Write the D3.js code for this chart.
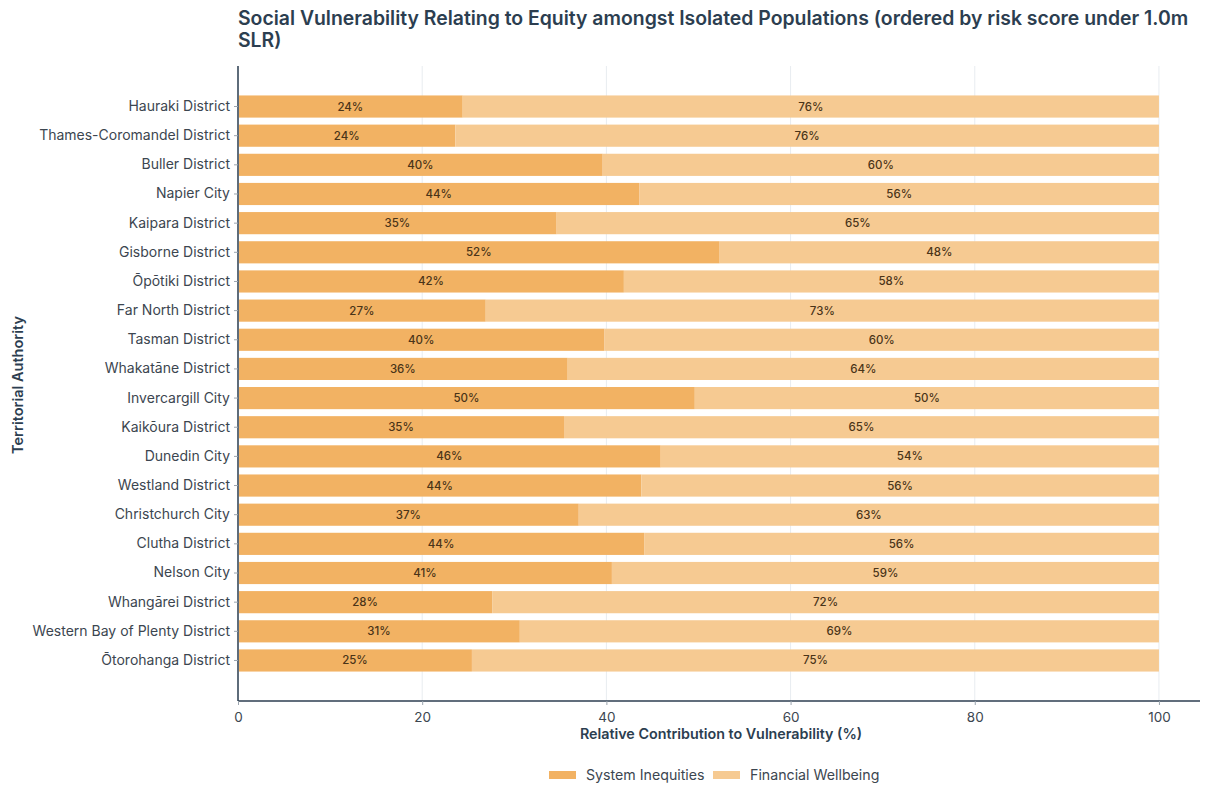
<!DOCTYPE html>
<html>
<head>
<meta charset="utf-8">
<script src="https://cdn.jsdelivr.net/npm/d3@7"></script>
<style>
  html, body { margin: 0; padding: 0; background: #ffffff; }
  svg { display: block; font-family: Inter, "Noto Sans", sans-serif; }
</style>
</head>
<body>
<svg id="chart" width="1205" height="787"></svg>
<script>
// Territorial authorities, ordered by risk score under 1.0m SLR
const authorities = [
  "Hauraki District", "Thames-Coromandel District", "Buller District", "Napier City",
  "Kaipara District", "Gisborne District", "Ōpōtiki District", "Far North District",
  "Tasman District", "Whakatāne District", "Invercargill City", "Kaikōura District",
  "Dunedin City", "Westland District", "Christchurch City", "Clutha District",
  "Nelson City", "Whangārei District", "Western Bay of Plenty District", "Ōtorohanga District"
];
// Share of vulnerability (%) from each component
const systemInequities = [24.4, 23.6, 39.6, 43.6, 34.6, 52.3, 41.9, 26.9, 39.8, 35.8,
                          49.6, 35.4, 45.9, 43.8, 37.0, 44.1, 40.6, 27.6, 30.6, 25.4];
const financialWellbeing = [75.6, 76.4, 60.4, 56.4, 65.4, 47.7, 58.1, 73.1, 60.2, 64.2,
                            50.4, 64.6, 54.1, 56.2, 63.0, 55.9, 59.4, 72.4, 69.4, 74.6];
const seriesNames = ["System Inequities", "Financial Wellbeing"];
const seriesColors = ["#f2b263", "#f6ca92"];
const xTicks = [0, 20, 40, 60, 80, 100];

const svg = d3.select("#chart");
const margin = { left: 238, right: 0, top: 66, bottom: 86 };
const W = 1205, H = 787;

const x = d3.scaleLinear().domain([0, 105]).range([margin.left, W - margin.right]);
const y = d3.scaleBand().domain(authorities)
  .range([margin.top, H - margin.bottom]).paddingInner(0.24).paddingOuter(1.01);

// Title
const title = svg.append("text").attr("x", 238).attr("y", 25)
  .attr("font-size", 19.4).attr("font-weight", 600).attr("fill", "#2c3e50");
title.append("tspan").attr("x", 238).text("Social Vulnerability Relating to Equity amongst Isolated Populations (ordered by risk score under 1.0m");
title.append("tspan").attr("x", 238).attr("dy", 22).text("SLR)");

// Vertical grid
svg.append("g").selectAll("line").data(xTicks).join("line")
  .attr("x1", d => x(d)).attr("x2", d => x(d))
  .attr("y1", margin.top).attr("y2", H - margin.bottom)
  .attr("stroke", "#e8ecf0").attr("stroke-width", 1);

// Stacked bars
const rows = authorities.map((a, i) => ({ name: a, s0: systemInequities[i], s1: financialWellbeing[i] }));
const stack = d3.stack().keys(["s0", "s1"])(rows);

const layers = svg.append("g").selectAll("g").data(stack).join("g")
  .attr("fill", (d, i) => seriesColors[i]);

layers.selectAll("rect").data(d => d).join("rect")
  .attr("x", d => x(d[0]) + (d[0] === 0 ? 1 : 0))
  .attr("y", d => y(d.data.name))
  .attr("width", d => x(d[1]) - x(d[0]) - (d[0] === 0 ? 1 : 0))
  .attr("height", y.bandwidth());

// Percentage labels centred in each segment
layers.selectAll("text").data(d => d).join("text")
  .attr("x", d => (x(d[0]) + x(d[1])) / 2)
  .attr("y", d => y(d.data.name) + y.bandwidth() / 2)
  .attr("dy", "0.35em").attr("text-anchor", "middle")
  .attr("font-size", 11.5).attr("font-weight", 500).attr("fill", "#4a3418")
  .text(d => Math.round(d[1] - d[0]) + "%");

// Y axis
const yAxis = svg.append("g").attr("transform", `translate(${margin.left},0)`)
  .call(d3.axisLeft(y).tickSize(4).tickPadding(4));
yAxis.select(".domain").attr("stroke", "#2c3e50").attr("stroke-width", 1.5)
  .attr("d", `M0,${margin.top}V${H - margin.bottom}`);
yAxis.selectAll(".tick line").attr("stroke", "#9aa4ae");
yAxis.selectAll(".tick text").attr("font-size", 14).attr("fill", "#3c4650")
  .attr("font-family", "Inter, sans-serif");

// X axis
const xAxis = svg.append("g").attr("transform", `translate(0,${H - margin.bottom})`)
  .call(d3.axisBottom(x).tickValues(xTicks).tickSize(4).tickPadding(7));
xAxis.select(".domain").attr("stroke", "#2c3e50").attr("stroke-width", 1.5)
  .attr("d", `M${margin.left},0H${W - 5}`);
xAxis.selectAll(".tick line").attr("stroke", "#9aa4ae");
xAxis.selectAll(".tick text").attr("font-size", 13.5).attr("fill", "#3c4650")
  .attr("font-family", "Inter, sans-serif");

// Axis titles
svg.append("text").attr("x", 721).attr("y", 739).attr("text-anchor", "middle")
  .attr("font-size", 14.3).attr("font-weight", 600).attr("fill", "#2c3e50")
  .text("Relative Contribution to Vulnerability (%)");
svg.append("text").attr("transform", "translate(23,385) rotate(-90)")
  .attr("text-anchor", "middle").attr("font-size", 14.5).attr("font-weight", 600)
  .attr("fill", "#2c3e50").text("Territorial Authority");

// Legend
const legendX = [549, 713];
const legend = svg.append("g").selectAll("g").data(seriesNames).join("g")
  .attr("transform", (d, i) => `translate(${legendX[i]},775)`);
legend.append("rect").attr("x", 0).attr("y", -4).attr("width", 27).attr("height", 8)
  .attr("fill", (d, i) => seriesColors[i]);
legend.append("text").attr("x", 37).attr("dy", "0.35em").attr("font-size", 14.2)
  .attr("fill", "#3c4650").text(d => d);
</script>
</body>
</html>
